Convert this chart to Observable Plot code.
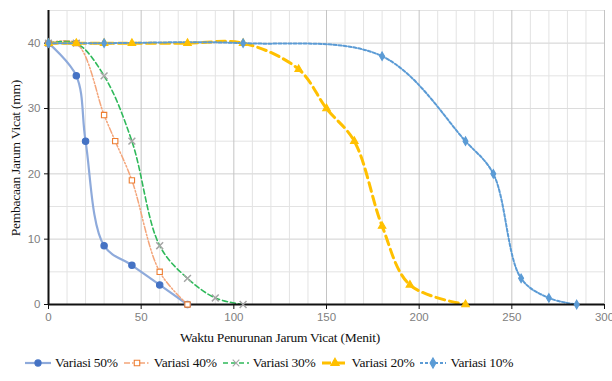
<!DOCTYPE html>
<html><head><meta charset="utf-8">
<script src="https://cdn.jsdelivr.net/npm/d3@7"></script>
<script src="https://cdn.jsdelivr.net/npm/@observablehq/plot@0.6"></script>
<style>
body{margin:0;background:#fff;width:612px;height:381px;overflow:hidden;position:relative}
.lab{position:absolute;font-family:'Liberation Serif','Times New Roman',serif;font-size:13.5px;letter-spacing:-0.25px;color:#111;white-space:nowrap}
#ybox{position:absolute;left:6px;top:10px;width:20px;height:296px;display:flex;align-items:center;justify-content:center}
#ylab{position:static;writing-mode:vertical-rl;transform:rotate(180deg)}
#xlab{left:280px;top:338px;transform:translate(-50%,-50%)}
#legend{position:absolute;top:355px;left:24px;display:flex;align-items:center;font-family:'Liberation Serif','Times New Roman',serif;font-size:13.5px;letter-spacing:-0.25px;color:#111}
#legend .it{display:flex;align-items:center;margin-right:5px}
#legend svg{margin-right:3px}
</style></head><body>
<div id="chart"></div>
<div id="ybox"><span class="lab" id="ylab">Pembacaan Jarum Vicat (mm)</span></div>
<div class="lab" id="xlab">Waktu Penurunan Jarum Vicat (Menit)</div>
<div id="legend"></div>
<script>
const names = ["Variasi 50%","Variasi 40%","Variasi 30%","Variasi 20%","Variasi 10%"];
const t50 = [0,15,20,30,45,60,75];
const v50 = [40,35,25,9,6,3,0];
const t40 = [0,15,30,36,45,60,75];
const v40 = [40,40,29,25,19,5,0];
const t30 = [0,15,30,45,60,75,90,105];
const v30 = [40,40,35,25,9,4,1,0];
const t20 = [0,15,30,45,75,105,135,150,165,180,195,225];
const v20 = [40,40,40,40,40,40,36,30,25,12,3,0];
const t10 = [0,30,105,180,225,240,255,270,285];
const v10 = [40,40,40,38,25,20,4,1,0];
const xTicks = [0,50,100,150,200,250,300];
const yTicks = [0,10,20,30,40];

const styles = [
  {line:"#8eaadb", w:2.2, dash:null, sym:"circle", fill:"#4472c4", stroke:"#4472c4", r:3.2},
  {line:"#f4a57a", w:1.5, dash:"6,2,1.5,2,1.5,2", sym:"square", fill:"white", stroke:"#ed7d31", r:3},
  {line:"#2fb95a", w:1.6, dash:"5,3", sym:"times", fill:"none", stroke:"#a5a5a5", r:3.2},
  {line:"#ffc000", w:3, dash:"9,5", sym:"triangle", fill:"#ffc000", stroke:"#ffc000", r:2.8},
  {line:"#5b9bd5", w:2, dash:"3,2", sym:"diamond", fill:"#5b9bd5", stroke:"#5b9bd5", r:2.6}
];
const ts = [t50,t40,t30,t20,t10], vs = [v50,v40,v30,v20,v10];
const series = names.map((n,i)=>ts[i].map((t,j)=>({t, v:vs[i][j], s:n})));

const marks = [
  Plot.ruleX(d3.range(0,301,10).filter(d=>d%50!==0), {stroke:"#e3e3e3", strokeWidth:1}),
  Plot.ruleY(d3.range(5,46,5), {stroke:"#e3e3e3", strokeWidth:1}),
  Plot.ruleY(d3.range(10,46,10), {stroke:"#dcdcdc", strokeWidth:1}),
  Plot.ruleX(d3.range(50,301,50), {stroke:"#c4c4c4", strokeWidth:1}),
  Plot.axisX({ticks:xTicks, tickSize:5, tickPadding:3, stroke:"#111", fill:"#808080", label:null, fontSize:11.5, fontFamily:"Liberation Sans, Arial, sans-serif"}),
  Plot.axisY({ticks:yTicks, tickSize:4, tickPadding:4, stroke:"#111", fill:"#808080", label:null, fontSize:11.5, fontFamily:"Liberation Sans, Arial, sans-serif"}),
];
series.forEach((d,i)=>{
  const st = styles[i];
  marks.push(Plot.line(d,{x:"t", y:"v", curve:"catmull-rom", stroke:st.line, strokeWidth:st.w, strokeDasharray:st.dash}));
});
marks.push(Plot.ruleY([0], {stroke:"#111", strokeWidth:2}));
marks.push(Plot.ruleX([0], {stroke:"#111", strokeWidth:2}));
series.forEach((d,i)=>{
  const st = styles[i];
  marks.push(Plot.dot(d,{x:"t", y:"v", symbol:st.sym, r:st.r, fill:st.fill, stroke:st.stroke, strokeWidth: st.sym==="times"?1.5:1.1}));
});

const chart = Plot.plot({
  width:612, height:330,
  marginLeft:48, marginRight:8, marginTop:10, marginBottom:26,
  x:{domain:[0,300]},
  y:{domain:[0,45]},
  style:{background:"white", overflow:"visible"},
  marks
});
document.getElementById("chart").appendChild(chart);

// legend
const leg = document.getElementById("legend");
names.forEach((n,i)=>{
  const st = styles[i];
  const it = document.createElement("div"); it.className="it";
  const w = 28;
  const svg = d3.create("svg").attr("width",w).attr("height",14);
  svg.append("line").attr("x1",1).attr("x2",w-1).attr("y1",7).attr("y2",7)
    .attr("stroke",st.line).attr("stroke-width",st.w).attr("stroke-dasharray",st.dash);
  const sym = {circle:d3.symbolCircle,square:d3.symbolSquare,times:d3.symbolTimes,triangle:d3.symbolTriangle,diamond:d3.symbolDiamond}[st.sym];
  svg.append("path").attr("transform",`translate(${w/2},7)`).attr("d",d3.symbol(sym, 30)())
    .attr("fill",st.fill).attr("stroke",st.stroke).attr("stroke-width",1.1);
  it.appendChild(svg.node());
  const sp = document.createElement("span"); sp.textContent=n;
  it.appendChild(sp);
  leg.appendChild(it);
});
</script>
</body></html>
